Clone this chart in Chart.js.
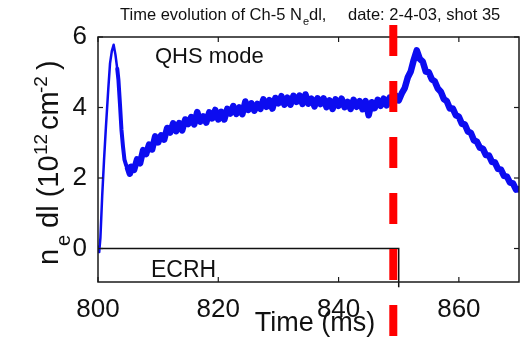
<!DOCTYPE html>
<html><head><meta charset="utf-8">
<script src="https://cdn.jsdelivr.net/npm/chart.js@4/dist/chart.umd.min.js"></script>
<style>html,body{margin:0;padding:0;background:#fff;}#wrap{width:524px;height:339px;}</style>
</head><body><div id="wrap"><canvas id="c" width="524" height="339"></canvas></div>
<script>
// ---- data ----
const timeMs = [
  800.0,800.2,800.4,800.7,801.0,801.3,801.7,802.0,802.3,802.6,
  802.9,803.2,803.4,803.65,803.9,804.15,804.4,804.7,805.0,805.3,
  805.5,806.0,806.5,807.0,807.5,808.0,808.5,809.0,809.5,810.0,
  810.5,811.0,811.5,812.0,812.5,813.0,813.5,814.0,814.5,815.0,
  815.5,816.0,816.5,817.0,817.5,818.0,818.5,819.0,819.5,820.0,
  820.5,821.0,821.5,822.0,822.5,823.0,823.5,824.0,824.5,825.0,
  825.5,826.0,826.5,827.0,827.5,828.0,828.5,829.0,829.5,830.0,
  830.5,831.0,831.5,832.0,832.5,833.0,833.5,834.0,834.5,835.0,
  835.5,836.0,836.5,837.0,837.5,838.0,838.5,839.0,839.5,840.0,
  840.5,841.0,841.5,842.0,842.5,843.0,843.5,844.0,844.5,845.0,
  845.5,846.0,846.5,847.0,847.5,848.0,848.5,849.0,849.5,850.0,
  850.5,851.0,851.5,852.0,852.5,853.0,853.5,854.0,854.5,855.0,
  855.5,856.0,856.5,857.0,857.5,858.0,858.5,859.0,859.5,860.0,
  860.5,861.0,861.5,862.0,862.5,863.0,863.5,864.0,864.5,865.0,
  865.5,866.0,866.5,867.0,867.5,868.0,868.5,869.0,869.5,870.0
];
const neDl = [
  0.05,-0.10,0.30,1.50,2.50,3.40,4.50,5.25,5.60,5.78,
  5.50,5.10,4.78,4.10,3.37,2.90,2.52,2.35,2.28,2.12,
  2.32,2.23,2.53,2.42,2.79,2.68,2.95,2.81,3.18,3.01,
  3.21,3.09,3.42,3.29,3.55,3.33,3.56,3.35,3.66,3.53,
  3.73,3.52,3.87,3.60,3.75,3.57,3.86,3.69,3.93,3.66,
  3.88,3.66,3.96,3.83,4.04,3.82,4.00,3.81,4.17,3.93,
  4.12,3.91,4.10,3.96,4.23,4.02,4.21,3.97,4.27,4.12,
  4.32,4.08,4.28,4.08,4.33,4.16,4.34,4.10,4.37,4.11,
  4.25,4.03,4.26,4.10,4.26,4.01,4.20,3.96,4.23,4.05,
  4.25,4.01,4.16,3.96,4.22,4.02,4.18,3.95,4.18,3.78,
  4.15,3.98,4.22,4.05,4.25,4.06,4.28,4.12,4.34,4.20,
  4.40,4.55,4.85,5.02,5.35,5.62,5.38,5.30,5.02,5.00,
  4.80,4.74,4.54,4.45,4.24,4.18,3.97,3.97,3.78,3.74,
  3.54,3.52,3.32,3.28,3.07,3.03,2.86,2.83,2.65,2.64,
  2.46,2.44,2.26,2.24,2.06,2.04,1.87,1.85,1.67,1.68
];
const ecrhTime  = [800, 850, 850];
const ecrhLevel = [0, 0, -1.1];
const xTickValues = [800, 820, 840, 860];
const yTickValues = [0, 2, 4, 6];
const redLineTime = 849.1;
const xRange = [800, 870];
const yRange = [-0.95, 6];

const FONT = '"Liberation Sans", Arial, Helvetica, sans-serif';
const TXT = '#111111';

const mainPoints = timeMs.map((t, i) => ({x: t, y: neDl[i]}));
const ecrhPoints = ecrhTime.map((t, i) => ({x: t, y: ecrhLevel[i]}));

const decor = {
  id: 'decor',
  afterDraw(chart) {
    const {ctx, chartArea: a, scales: {x, y}} = chart;
    ctx.save();
    ctx.strokeStyle = '#1a1a1a';
    ctx.lineWidth = 1.5;
    ctx.strokeRect(a.left, a.top, a.right - a.left, a.bottom - a.top);
    ctx.lineWidth = 1.2;
    const seg = (x1, y1, x2, y2) => { ctx.beginPath(); ctx.moveTo(x1, y1); ctx.lineTo(x2, y2); ctx.stroke(); };
    xTickValues.forEach(v => {
      const px = x.getPixelForValue(v);
      seg(px, a.bottom, px, a.bottom - 5);
      seg(px, a.top, px, a.top + 5);
    });
    yTickValues.forEach(v => {
      const py = y.getPixelForValue(v);
      seg(a.left, py, a.left + 5, py);
      seg(a.right, py, a.right - 5, py);
    });
    ctx.fillStyle = TXT;
    ctx.textBaseline = 'alphabetic';
    ctx.textAlign = 'left';
    let tx = 120;
    ctx.font = '16.5px ' + FONT;
    const t1 = 'Time evolution of Ch-5 N';
    ctx.fillText(t1, tx, 20); tx += ctx.measureText(t1).width;
    ctx.font = '11px ' + FONT;
    ctx.fillText('e', tx + 1, 25); tx += ctx.measureText('e').width + 1;
    ctx.font = '16.5px ' + FONT;
    ctx.fillText('dl,', tx, 20);
    ctx.fillText('date: 2-4-03, shot 35', 348, 20);
    ctx.font = '22px ' + FONT;
    ctx.fillText('QHS mode', 155, 63);
    ctx.font = '23px ' + FONT;
    ctx.fillText('ECRH', 151, 277);
    ctx.font = '27px ' + FONT;
    ctx.textAlign = 'center';
    ctx.fillText('Time (ms)', 315, 331);
    ctx.save();
    ctx.translate(58, 265);
    ctx.rotate(-Math.PI / 2);
    ctx.textAlign = 'left';
    const pieces = [
      {t: 'n', u: 0, s: 29, b: 0},
      {t: 'e', u: 19, s: 20, b: 12},
      {t: 'dl (10', u: 37, s: 29, b: 0},
      {t: '12', u: 110, s: 19, b: -11},
      {t: 'cm', u: 135, s: 29, b: 0},
      {t: '-2', u: 172, s: 19, b: -11},
      {t: ')', u: 195, s: 29, b: 0}
    ];
    pieces.forEach(p => { ctx.font = p.s + 'px ' + FONT; ctx.fillText(p.t, p.u, p.b); });
    ctx.restore();
    const rx = x.getPixelForValue(redLineTime);
    ctx.strokeStyle = '#ff0000';
    ctx.lineWidth = 8;
    ctx.setLineDash([31, 25]);
    ctx.beginPath(); ctx.moveTo(rx, 25); ctx.lineTo(rx, 339); ctx.stroke();
    ctx.restore();
  }
};

new Chart(document.getElementById('c'), {
  type: 'line',
  data: {
    datasets: [
      {
        label: 'neDl',
        data: mainPoints,
        borderColor: 'rgb(12,12,240)',
        pointRadius: 0,
        tension: 0,
        borderJoinStyle: 'round',
        borderCapStyle: 'round',
        segment: { borderWidth: c => (c.p0.parsed.x < 803 ? 2.5 : (c.p0.parsed.x < 805 ? 4 : 6.5)) }
      },
      {
        label: 'ECRH',
        data: ecrhPoints,
        borderColor: '#111111',
        borderWidth: 1.5,
        pointRadius: 0,
        tension: 0,
        clip: false
      }
    ]
  },
  options: {
    responsive: false,
    animation: false,
    devicePixelRatio: 1,
    layout: { padding: { left: 0, top: 37, right: 5, bottom: 0 } },
    plugins: { legend: { display: false }, tooltip: { enabled: false }, title: { display: false } },
    scales: {
      x: {
        type: 'linear', min: xRange[0], max: xRange[1],
        afterBuildTicks: s => { s.ticks = xTickValues.map(v => ({value: v})); },
        afterFit: s => { s.height = 57; },
        grid: { display: false }, border: { display: false },
        ticks: { font: { family: FONT, size: 26 }, color: TXT, padding: 4, maxRotation: 0, autoSkip: false }
      },
      y: {
        type: 'linear', min: yRange[0], max: yRange[1],
        afterBuildTicks: s => { s.ticks = yTickValues.map(v => ({value: v})); },
        afterFit: s => { s.width = 98; },
        grid: { display: false }, border: { display: false },
        ticks: { font: { family: FONT, size: 26 }, color: TXT, padding: 3, autoSkip: false }
      }
    }
  },
  plugins: [decor]
});
</script></body></html>
